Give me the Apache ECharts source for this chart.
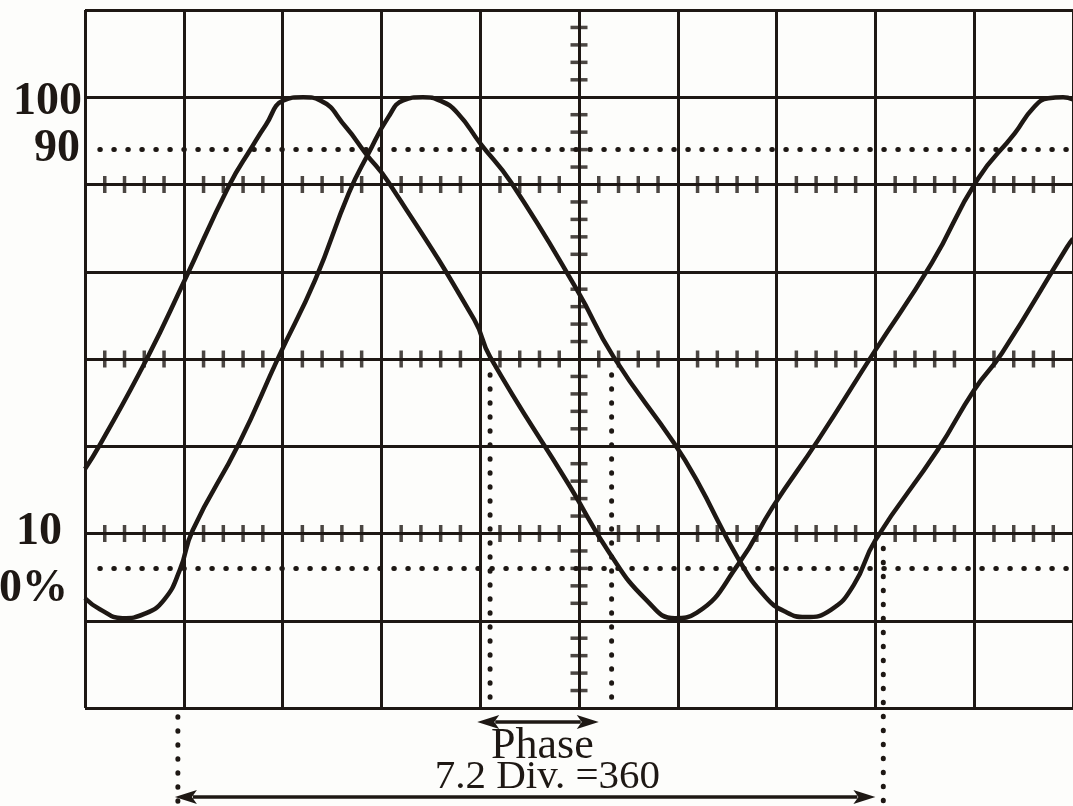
<!DOCTYPE html>
<html>
<head>
<meta charset="utf-8">
<title>Phase measurement</title>
<script src="https://cdn.jsdelivr.net/npm/echarts@6/dist/echarts.min.js"></script>
<style>
  html, body { margin: 0; padding: 0; background: #fdfdfb; }
  #chart { width: 1073px; height: 806px; }
</style>
</head>
<body>
<div id="chart"></div>
<script>
// graticule: 10 x 8 divisions, 0% sits on division 1 and 100% on division 7
var xDivisions = 10
var yDivisions = 8

// traces: [horizontal position (div), amplitude (%)]
var traceA = [
  [0, 29.0], [0.15, 33.6], [0.63, 50.2], [1.01, 65.1], [1.46, 83.2], [1.69, 90.5],
  [1.83, 94.7], [2.01, 99.4], [2.21, 100], [2.38, 99.4], [2.64, 94.3], [2.84, 89.3],
  [3.07, 83.8], [3.94, 57.5], [4.10, 50.4], [4.91, 25.6], [5.31, 12.9], [5.68, 4.0],
  [5.97, 0.5], [6.19, 1.5], [6.62, 11.0], [6.96, 21.7], [7.42, 34.5], [8.00, 51.7],
  [8.57, 68.3], [9.03, 84.2], [9.41, 93.1], [9.60, 98.0], [9.75, 99.8], [9.90, 100], [10, 99.6]
]
var traceB = [
  [0, 4.3], [0.15, 2.2], [0.38, 0.5], [0.60, 1.3], [0.80, 4.0], [0.96, 9.7],
  [1.09, 17.3], [1.56, 33.9], [1.96, 50.4], [2.33, 65.1], [2.67, 81.7], [2.87, 89.3],
  [3.07, 96.2], [3.22, 99.4], [3.42, 100], [3.60, 99.3], [3.77, 97.0], [4.00, 91.2],
  [4.31, 83.8], [4.98, 63.2], [5.35, 50.4], [5.96, 34.0], [6.19, 26.9], [6.62, 11.6],
  [6.89, 4.5], [7.09, 1.7], [7.29, 0.7], [7.55, 2.1], [7.78, 6.8], [8.00, 15.4],
  [8.63, 32.6], [9.00, 44.1], [9.28, 51.1], [9.94, 71.4], [10, 73.0]
]

// left hand level labels and where they sit (%)
var levelLabels = ['100', '90', '10', '0%']
var levelLabelPct = [99, 90, 17, 6]
// dotted reference levels (%)
var dottedLevels = [90, 10]

// measurement marks (div)
var phaseMarks = [4.10, 5.33]
var periodMarks = [0.94, 8.08]
var noteTexts = ['Phase', '7.2 Div. =360']

var ink = '#1e1814'
var serif = '"Liberation Serif", "DejaVu Serif", serif'

function pctToDiv(p) {
  return 1 + p * 6 / 100
}

// small graticule ticks, every 0.2 div
var hTicks = []
;[2, 4, 6].forEach(function (y) {
  for (var k = 1; k < xDivisions * 5; k++) {
    if (k % 5) hTicks.push([k / 5, y])
  }
})
var vTicks = []
for (var k = 1; k < yDivisions * 5; k++) {
  if (k % 5) vTicks.push([xDivisions / 2, k / 5])
}

var dottedSegs = []
dottedLevels.forEach(function (p) {
  dottedSegs.push([0.15, pctToDiv(p), xDivisions, pctToDiv(p)])
})
phaseMarks.forEach(function (x) {
  dottedSegs.push([x, 3.82, x, 0.04])
})
dottedSegs.push([periodMarks[0], -0.1, periodMarks[0], -1.12])
dottedSegs.push([periodMarks[1], 1.83, periodMarks[1], -1.12])

var chart = echarts.init(document.getElementById('chart'))

var option = {
  backgroundColor: '#fdfdfb',
  animation: false,
  grid: { left: 85, top: 10, width: 994, height: 698 },
  xAxis: {
    type: 'value',
    min: 0,
    max: xDivisions,
    interval: 1,
    axisLine: { show: false },
    axisTick: { show: false },
    axisLabel: { show: false },
    splitLine: { show: true, lineStyle: { color: ink, width: 3 } }
  },
  yAxis: {
    type: 'value',
    min: 0,
    max: yDivisions,
    interval: 1,
    axisLine: { show: false },
    axisTick: { show: false },
    axisLabel: { show: false },
    splitLine: { show: true, lineStyle: { color: ink, width: 3 } }
  },
  series: [
    {
      // dotted level and marker lines
      type: 'custom',
      silent: true,
      clip: false,
      encode: { x: [0, 2], y: [1, 3] },
      data: dottedSegs,
      renderItem: function (params, api) {
        var a = api.coord([api.value(0), api.value(1)])
        var b = api.coord([api.value(2), api.value(3)])
        return {
          type: 'line',
          shape: { x1: a[0], y1: a[1], x2: b[0], y2: b[1] },
          style: { stroke: ink, lineWidth: 5, lineDash: [0.5, 13.5], lineCap: 'round' }
        }
      }
    },
    {
      type: 'scatter',
      silent: true,
      symbol: 'rect',
      symbolSize: [3.5, 17],
      itemStyle: { color: ink },
      data: hTicks
    },
    {
      type: 'scatter',
      silent: true,
      symbol: 'rect',
      symbolSize: [17, 3.5],
      itemStyle: { color: ink },
      data: vTicks
    },
    {
      name: 'A',
      type: 'line',
      silent: true,
      showSymbol: false,
      smooth: 0.5,
      lineStyle: { color: ink, width: 4.5 },
      data: traceA.map(function (p) { return [p[0], pctToDiv(p[1])] })
    },
    {
      name: 'B',
      type: 'line',
      silent: true,
      showSymbol: false,
      smooth: 0.5,
      lineStyle: { color: ink, width: 4.5 },
      data: traceB.map(function (p) { return [p[0], pctToDiv(p[1])] })
    },
    {
      // arrows under the screen: [from, to, height]
      type: 'custom',
      silent: true,
      clip: false,
      encode: { x: [0, 1], y: 2 },
      data: [[3.97, 5.2, -0.16], [0.91, 8.0, -1.02]],
      renderItem: function (params, api) {
        var a = api.coord([api.value(0), api.value(2)])
        var b = api.coord([api.value(1), api.value(2)])
        var h = 22
        var w = 7
        return {
          type: 'group',
          children: [
            {
              type: 'line',
              shape: { x1: a[0] + h - 4, y1: a[1], x2: b[0] - h + 4, y2: b[1] },
              style: { stroke: ink, lineWidth: 3.5 }
            },
            {
              type: 'polygon',
              shape: { points: [[a[0], a[1]], [a[0] + h, a[1] - w], [a[0] + h - 5, a[1]], [a[0] + h, a[1] + w]] },
              style: { fill: ink }
            },
            {
              type: 'polygon',
              shape: { points: [[b[0], b[1]], [b[0] - h, b[1] - w], [b[0] - h + 5, b[1]], [b[0] - h, b[1] + w]] },
              style: { fill: ink }
            }
          ]
        }
      }
    },
    {
      // notes under the screen
      type: 'custom',
      silent: true,
      clip: false,
      data: [[4.63, -0.44, 0], [4.68, -0.79, 1]],
      renderItem: function (params, api) {
        var p = api.coord([api.value(0), api.value(1)])
        var i = api.value(2)
        return {
          type: 'text',
          style: {
            text: noteTexts[i],
            x: p[0],
            y: p[1],
            align: 'center',
            verticalAlign: 'middle',
            fill: ink,
            font: (i === 0 ? '44px ' : '41px ') + serif
          }
        }
      }
    },
    {
      // level labels left of the screen
      type: 'custom',
      silent: true,
      clip: false,
      data: levelLabelPct.map(function (p, i) { return [0, pctToDiv(p), i] }),
      renderItem: function (params, api) {
        var offsets = [-3, -5, -23, -17]
        var p = api.coord([api.value(0), api.value(1)])
        var i = api.value(2)
        return {
          type: 'text',
          style: {
            text: levelLabels[i],
            x: p[0] + offsets[i],
            y: p[1],
            align: 'right',
            verticalAlign: 'middle',
            fill: ink,
            font: 'bold 46px ' + serif
          }
        }
      }
    }
  ]
}

chart.setOption(option)
</script>
</body>
</html>
